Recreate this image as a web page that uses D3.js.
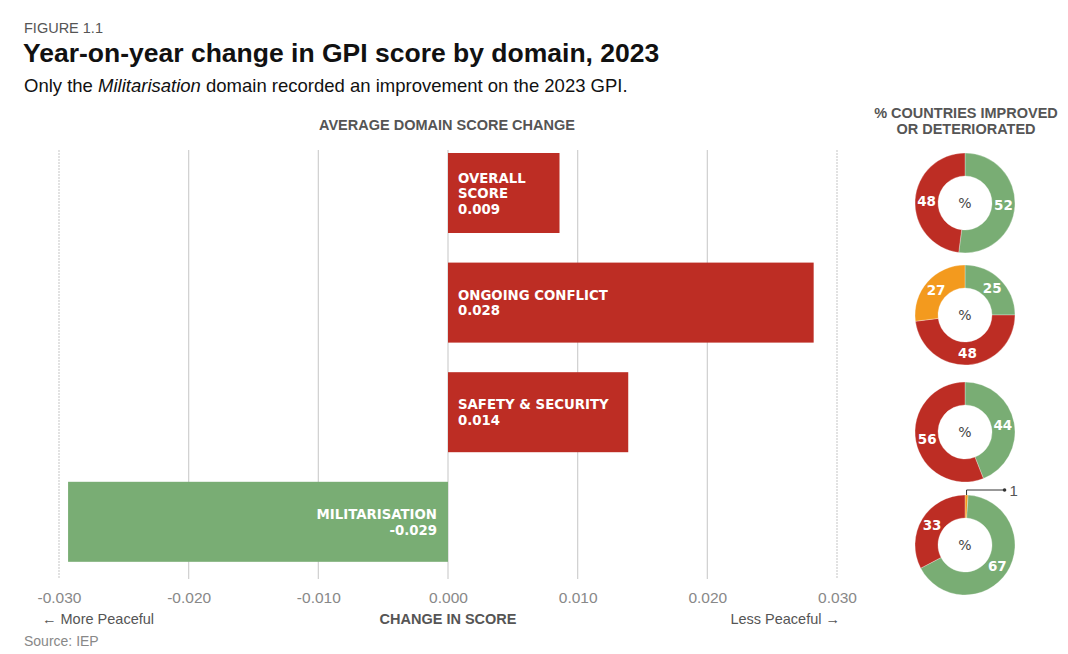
<!doctype html>
<html>
<head>
<meta charset="UTF-8">
<title>GPI domain change 2023</title>
<script src="https://d3js.org/d3.v7.min.js"></script>
<style>
  body { margin: 0; background: #fff; }
  svg { font-family: "Liberation Sans", Arial, sans-serif; }
  .lbl, .lbl tspan { font-family: "DejaVu Sans", sans-serif; font-weight: bold; fill: #fff; }
</style>
</head>
<body>
<svg id="chart" width="1068" height="654"></svg>
<script>
// data
var domains = ["OVERALL SCORE", "ONGOING CONFLICT", "SAFETY & SECURITY", "MILITARISATION"];
var barLines = [["OVERALL", "SCORE", "0.009"], ["ONGOING CONFLICT", "0.028"], ["SAFETY & SECURITY", "0.014"], ["MILITARISATION", "-0.029"]];
var changes = [0.0086, 0.0282, 0.0139, -0.0293];
var ticks = [-0.03, -0.02, -0.01, 0, 0.01, 0.02, 0.03];

// % countries: improved, deteriorated, no change
var improved = [52, 25, 44, 67];
var deteriorated = [48, 48, 56, 33];
var noChange = [0, 27, 0, 1];

var red = "#bd2d24", green = "#79ad74", orange = "#f39a1e";

var svg = d3.select("#chart");

// headings
svg.append("text").attr("x", 24).attr("y", 33).attr("font-size", 14.5).attr("fill", "#555").text("FIGURE 1.1");
svg.append("text").attr("x", 23).attr("y", 62).attr("font-size", 26.5).attr("font-weight", "bold").attr("fill", "#111")
    .text("Year-on-year change in GPI score by domain, 2023");
var sub = svg.append("text").attr("x", 24).attr("y", 92).attr("font-size", 18.5).attr("fill", "#111");
sub.append("tspan").text("Only the ");
sub.append("tspan").attr("font-style", "italic").text("Militarisation");
sub.append("tspan").text(" domain recorded an improvement on the 2023 GPI.");

svg.append("text").attr("x", 447).attr("y", 130).attr("text-anchor", "middle").attr("font-size", 14.5)
    .attr("font-weight", "bold").attr("fill", "#555").text("AVERAGE DOMAIN SCORE CHANGE");
svg.append("text").attr("x", 966).attr("y", 118).attr("text-anchor", "middle").attr("font-size", 14.5)
    .attr("font-weight", "bold").attr("fill", "#555").text("% COUNTRIES IMPROVED");
svg.append("text").attr("x", 966).attr("y", 134).attr("text-anchor", "middle").attr("font-size", 14.5)
    .attr("font-weight", "bold").attr("fill", "#555").text("OR DETERIORATED");

// scales
var x = d3.scaleLinear().domain([-0.03, 0.03]).range([59, 837]);
var y = d3.scaleBand().domain(domains).range([138.2, 576.6]).paddingInner(0.27).paddingOuter(0.135);

// grid
svg.append("g").selectAll("line").data(ticks).enter().append("line")
    .attr("x1", function(d) { return x(d); })
    .attr("x2", function(d) { return x(d); })
    .attr("y1", 150).attr("y2", 579)
    .attr("stroke", "#cfcfcf").attr("stroke-width", 1.2)
    .attr("stroke-dasharray", function(d) { return Math.abs(d) > 0.025 ? "2,1" : null; });

// tick labels
var axis = d3.axisBottom(x).tickValues(ticks).tickSize(0).tickPadding(0).tickFormat(d3.format(".3f"));
var ax = svg.append("g").attr("transform", "translate(0,592)").call(axis);
ax.select(".domain").remove();
ax.selectAll("text").attr("font-size", 15.5).attr("fill", "#888").attr("font-family", "Liberation Sans, Arial, sans-serif")
    .text(function(d) { return d3.format(".3f")(d).replace("\u2212", "-"); });

svg.append("text").attr("x", 42).attr("y", 624).attr("font-size", 14.5).attr("fill", "#555").text("\u2190 More Peaceful");
svg.append("text").attr("x", 448).attr("y", 624).attr("text-anchor", "middle").attr("font-size", 14.5)
    .attr("font-weight", "bold").attr("fill", "#555").text("CHANGE IN SCORE");
svg.append("text").attr("x", 840).attr("y", 624).attr("text-anchor", "end").attr("font-size", 14.5).attr("fill", "#555").text("Less Peaceful \u2192");
svg.append("text").attr("x", 24).attr("y", 646).attr("font-size", 14).attr("fill", "#888").text("Source: IEP");

// bars
svg.append("g").selectAll("rect").data(changes).enter().append("rect")
    .attr("x", function(d) { return x(Math.min(0, d)); })
    .attr("width", function(d) { return Math.abs(x(d) - x(0)); })
    .attr("y", function(d, i) { return y(domains[i]); })
    .attr("height", y.bandwidth())
    .attr("fill", function(d) { return d < 0 ? green : red; });

// bar labels
changes.forEach(function(d, i) {
    var lines = barLines[i];
    var cy = y(domains[i]) + y.bandwidth() / 2;
    var lh = 15.5;
    var t = svg.append("text").attr("class", "lbl").attr("font-size", 13.3)
        .attr("text-anchor", d < 0 ? "end" : "start");
    lines.forEach(function(s, j) {
        t.append("tspan").attr("x", d < 0 ? x(0) - 11 : x(0) + 10)
            .attr("y", cy - (lines.length - 1) * lh / 2 + j * lh + 5)
            .text(s);
    });
});

// donuts
var cxD = 965;
var cyD = [203, 315, 432, 545];
var rOut = 50, rIn = 27;
var pie = d3.pie().sort(null).value(function(d) { return d.v; });
var arc = d3.arc().innerRadius(rIn).outerRadius(rOut);
var labelArc = d3.arc().innerRadius(38.5).outerRadius(38.5);

domains.forEach(function(name, i) {
    var parts;
    if (i === 3) {
        parts = [{ v: noChange[i], c: orange }, { v: improved[i], c: green }, { v: deteriorated[i], c: red }];
    } else {
        parts = [{ v: improved[i], c: green }, { v: deteriorated[i], c: red }, { v: noChange[i], c: orange }];
    }
    var g = svg.append("g").attr("transform", "translate(" + cxD + "," + cyD[i] + ")");
    var arcs = pie(parts.filter(function(p) { return p.v > 0; }));
    g.selectAll("path").data(arcs).enter().append("path")
        .attr("d", arc).attr("fill", function(d) { return d.data.c; })
        .attr("stroke", "#fff").attr("stroke-width", 0.3);
    g.selectAll("text.val").data(arcs.filter(function(d) { return d.data.v > 3; })).enter().append("text")
        .attr("class", "lbl val").attr("font-size", 13.5).attr("text-anchor", "middle")
        .attr("transform", function(d) { var c = labelArc.centroid(d); return "translate(" + c[0] + "," + (c[1] + 5) + ")"; })
        .text(function(d) { return d.data.v; });
    g.append("text").attr("y", 5).attr("text-anchor", "middle").attr("font-size", 14)
        .attr("font-family", "DejaVu Sans, sans-serif").attr("fill", "#444").text("%");

    // leader for tiny slice
    arcs.filter(function(d) { return d.data.v <= 3; }).forEach(function(d) {
        var a = (d.startAngle + d.endAngle) / 2;
        var px = Math.sin(a) * rOut, py = -Math.cos(a) * rOut;
        var ly = -rOut - 5;
        g.append("path").attr("d", "M" + px + "," + py + "V" + ly + "H" + (px + 38))
            .attr("fill", "none").attr("stroke", "#333").attr("stroke-width", 1);
        g.append("circle").attr("cx", px + 38).attr("cy", ly).attr("r", 1.8).attr("fill", "#333");
        g.append("text").attr("x", px + 43).attr("y", ly + 5.5).attr("font-size", 15).attr("fill", "#555").text(d.data.v);
    });
});
</script>
</body>
</html>
